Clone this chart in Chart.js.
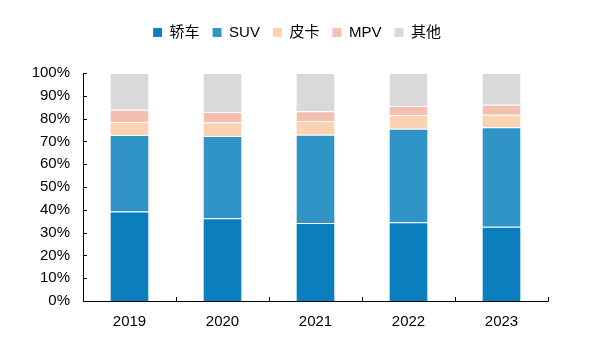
<!DOCTYPE html>
<html>
<head>
<meta charset="utf-8">
<script src="https://cdn.jsdelivr.net/npm/chart.js@4.4.0/dist/chart.umd.min.js"></script>
<style>
html,body{margin:0;padding:0;background:#fff;}
#wrap{width:594px;height:337px;position:relative;}
</style>
</head>
<body>
<div id="wrap"><canvas id="c" width="594" height="337"></canvas></div>
<script>
const categories = ['2019', '2020', '2021', '2022', '2023'];
const seriesNames = ['轿车', 'SUV', '皮卡', 'MPV', '其他'];
const sedan  = [39.2, 36.3, 34.2, 34.5, 32.6];
const suv    = [33.6, 36.1, 38.7, 41.1, 43.6];
const pickup = [5.7, 6.0, 6.0, 6.0, 5.5];
const mpv    = [5.4, 4.5, 4.3, 3.9, 4.4];
const others = [16.1, 17.1, 16.8, 14.5, 13.9];
const yTickLabels = ['0%','10%','20%','30%','40%','50%','60%','70%','80%','90%','100%'];

const colors = ['#0b7fbd', '#3194c6', '#fcd3b2', '#f4bfb0', '#d9d9d9'];
const seriesData = [sedan, suv, pickup, mpv, others];

const FONT = '"Liberation Sans", Arial, "Noto Sans CJK SC", sans-serif';

const innerTicks = {
  id: 'innerTicks',
  afterDraw(chart) {
    const ctx = chart.ctx;
    const y = chart.scales.y;
    const area = chart.chartArea;
    ctx.save();
    ctx.strokeStyle = '#000';
    ctx.lineWidth = 1;
    ctx.beginPath();
    ctx.moveTo(area.left + 0.5, area.top);
    ctx.lineTo(area.left + 0.5, area.bottom + 0.5);
    ctx.moveTo(area.left, area.bottom + 0.5);
    ctx.lineTo(area.right + 0.5, area.bottom + 0.5);
    for (let v = 0; v <= 100; v += 10) {
      const py = Math.round(y.getPixelForValue(v)) + 0.5;
      ctx.moveTo(area.left, py);
      ctx.lineTo(area.left + 4, py);
    }
    const n = categories.length;
    const step = (area.right - area.left) / n;
    for (let i = 1; i <= n; i++) {
      const px = Math.round(area.left + i * step) + 0.5;
      ctx.moveTo(px, area.bottom);
      ctx.lineTo(px, area.bottom - 4);
    }
    ctx.stroke();
    ctx.restore();
  }
};

const legendFix = {
  id: 'legendFix',
  beforeInit(chart) {
    const lg = chart.legend;
    if (!lg) return;
    const orig = lg.fit;
    lg.fit = function() {
      orig.call(this);
      this.height = 61;
    };
  },
  afterLayout(chart) {
    const lg = chart.legend;
    if (!lg) return;
    lg.left = 0;
    lg.right = chart.width;
    lg.width = chart.width;
    lg.adjustHitBoxes && lg.adjustHitBoxes();
  }
};

new Chart(document.getElementById('c'), {
  type: 'bar',
  data: {
    labels: categories,
    datasets: seriesNames.map((name, i) => ({
      label: name,
      data: seriesData[i],
      backgroundColor: colors[i],
      borderColor: 'rgba(255,255,255,0.35)',
      borderWidth: {top: 1, bottom: 0, left: 0, right: 0},
      borderSkipped: false,
      barPercentage: 0.41,
      categoryPercentage: 1.0
    }))
  },
  options: {
    responsive: false,
    animation: false,
    devicePixelRatio: 1,
    layout: { padding: { left: 0, right: 46, top: 12, bottom: 0 } },
    plugins: {
      legend: {
        position: 'top',
        align: 'center',
        labels: {
          boxWidth: 9,
          boxHeight: 9,
          padding: 13,
          color: '#000',
          font: { family: FONT, size: 15 }
        }
      },
      tooltip: { enabled: false }
    },
    scales: {
      x: {
        stacked: true,
        offset: true,
        grid: { display: false, drawTicks: false },
        border: { display: false },
        ticks: { color: '#000', font: { family: FONT, size: 15 }, padding: 12 },
        afterFit(s) { s.height = 36; }
      },
      y: {
        stacked: true,
        min: 0,
        max: 100,
        grid: { display: false, drawTicks: false },
        border: { display: false },
        ticks: {
          stepSize: 10,
          color: '#000',
          font: { family: FONT, size: 15 },
          padding: 13,
          callback: (v) => yTickLabels[Math.round(v / 10)]
        },
        afterFit(s) { s.width = 83; }
      }
    }
  },
  plugins: [legendFix, innerTicks]
});
</script>
</body>
</html>
